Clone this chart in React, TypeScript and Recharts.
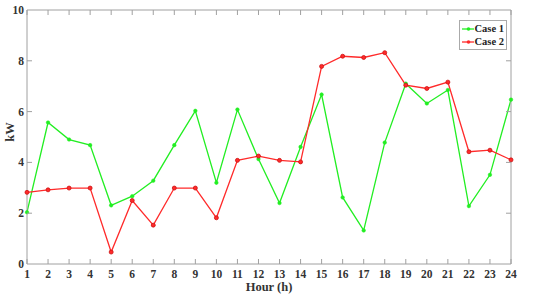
import React from 'react';
import { LineChart, Line, XAxis, YAxis, Legend } from 'recharts';

const hours = [1,2,3,4,5,6,7,8,9,10,11,12,13,14,15,16,17,18,19,20,21,22,23,24];
const case1 = [2.04,5.57,4.9,4.68,2.31,2.67,3.28,4.68,6.03,3.2,6.08,4.13,2.4,4.61,6.67,2.62,1.32,4.78,7.1,6.32,6.85,2.28,3.51,6.47];
const case2 = [2.82,2.92,2.99,2.99,0.47,2.5,1.53,2.99,2.99,1.82,4.08,4.25,4.08,4.02,7.78,8.18,8.13,8.32,7.04,6.91,7.16,4.42,4.48,4.1];
const yTicks = [0,2,4,6,8,10];
const seriesNames = ['Case 1','Case 2'];

const GREEN = '#22ee22';
const RED = '#ff2a2a';
const AXIS = '#a0a0a0';
const FONT = 'Liberation Serif';
const TICK_LEN = 5;

const data = hours.map((h, i) => ({ hour: h, c1: case1[i], c2: case2[i] }));

const BottomTick = (props: any) => {
  const { x, y, payload } = props;
  const ay = y - 6;
  return (
    <g>
      <line x1={x} y1={ay} x2={x} y2={ay - TICK_LEN} stroke={AXIS} strokeWidth={1} />
      <text x={x} y={y} dy="0.71em" textAnchor="middle" fontFamily={FONT} fontWeight="bold" fontSize={11.5} fill="#333">{payload.value}</text>
    </g>
  );
};

const TopTick = (props: any) => {
  const { x, y } = props;
  return <line x1={x} y1={y} x2={x} y2={y + TICK_LEN} stroke={AXIS} strokeWidth={1} />;
};

const LeftTick = (props: any) => {
  const { x, y, payload } = props;
  const ax = x + 3;
  return (
    <g>
      {payload.value !== 0 && payload.value !== 10 && (
        <line x1={ax} y1={y} x2={ax + TICK_LEN} y2={y} stroke={AXIS} strokeWidth={1} />
      )}
      <text x={x} y={y} dy="0.35em" textAnchor="end" fontFamily={FONT} fontWeight="bold" fontSize={11.5} fill="#333">{payload.value}</text>
    </g>
  );
};

const RightTick = (props: any) => {
  const { x, y, payload } = props;
  if (payload.value === 0 || payload.value === 10) return <g />;
  return <line x1={x} y1={y} x2={x - TICK_LEN} y2={y} stroke={AXIS} strokeWidth={1} />;
};

const YLabel = (props: any) => {
  const { viewBox } = props;
  const cx = viewBox.x + 10;
  const cy = viewBox.y + viewBox.height / 2 - 5;
  return (
    <text x={cx} y={cy} transform={`rotate(-90 ${cx} ${cy})`} textAnchor="middle" dominantBaseline="central"
      fontFamily={FONT} fontWeight="bold" fontSize={12.5} fill="#333">kW</text>
  );
};

const LegendBox = () => (
  <div style={{ border: '1px solid #aaa', background: '#fff', padding: '1px 2px 1px 2px', fontFamily: FONT, fontWeight: 'bold', fontSize: 10.5, color: '#222', lineHeight: '13px', width: 42 }}>
    {seriesNames.map((n, i) => (
      <div key={n} style={{ display: 'flex', alignItems: 'center', whiteSpace: 'nowrap' }}>
        <svg width={13} height={8} style={{ marginRight: 1 }}>
          <line x1={0} y1={4} x2={13} y2={4} stroke={i === 0 ? GREEN : RED} strokeWidth={1.3} />
          <circle cx={6.5} cy={4} r={1.8} fill={i === 0 ? GREEN : RED} />
        </svg>
        <span>{n}</span>
      </div>
    ))}
  </div>
);

export default function App() {
  return (
    <div style={{ position: 'absolute', left: 0, top: 0, width: 550, height: 295, background: '#fff' }}>
      <LineChart width={550} height={295} data={data} margin={{ top: 9, right: 38, bottom: 0, left: 0 }}>
        <XAxis xAxisId="bottom" dataKey="hour" type="number" domain={[1, 24]} ticks={hours} interval={0}
          height={31} tickSize={0} tickMargin={6} tick={<BottomTick />} axisLine={{ stroke: AXIS }} tickLine={false}
          label={{ value: 'Hour (h)', position: 'insideBottom', offset: 4, fontFamily: FONT, fontWeight: 'bold', fontSize: 12.5, fill: '#333' }} />
        <XAxis xAxisId="top" orientation="top" dataKey="hour" type="number" domain={[1, 24]} ticks={hours} interval={0}
          height={1} tickSize={0} tickMargin={0} tick={<TopTick />} axisLine={{ stroke: AXIS }} tickLine={false} />
        <YAxis yAxisId="left" type="number" domain={[0, 10]} ticks={yTicks} interval={0} width={27} tickSize={0} tickMargin={3}
          tick={<LeftTick />} axisLine={{ stroke: AXIS }} tickLine={false} label={<YLabel />} />
        <YAxis yAxisId="right" orientation="right" type="number" domain={[0, 10]} ticks={yTicks} interval={0} width={1}
          tickSize={0} tickMargin={0} tick={<RightTick />} axisLine={{ stroke: AXIS }} tickLine={false} />
        <Legend layout="horizontal" verticalAlign="middle" align="center" content={<LegendBox />}
          wrapperStyle={{ position: 'absolute', left: 459, top: 20, width: 46, height: 30 }} />
        <Line xAxisId="top" yAxisId="right" dataKey="c1" stroke="none" strokeWidth={0} dot={false} activeDot={false}
          legendType="none" isAnimationActive={false} />
        <Line xAxisId="bottom" yAxisId="left" dataKey="c1" name="Case 1" stroke={GREEN} strokeWidth={1.3} dot={{ r: 1.8, fill: GREEN, stroke: GREEN, strokeWidth: 0.5 }} isAnimationActive={false} />
        <Line xAxisId="bottom" yAxisId="left" dataKey="c2" name="Case 2" stroke={RED} strokeWidth={1.3} dot={{ r: 2, fill: RED, stroke: '#cc1111', strokeWidth: 0.8 }} isAnimationActive={false} />
      </LineChart>
    </div>
  );
}
